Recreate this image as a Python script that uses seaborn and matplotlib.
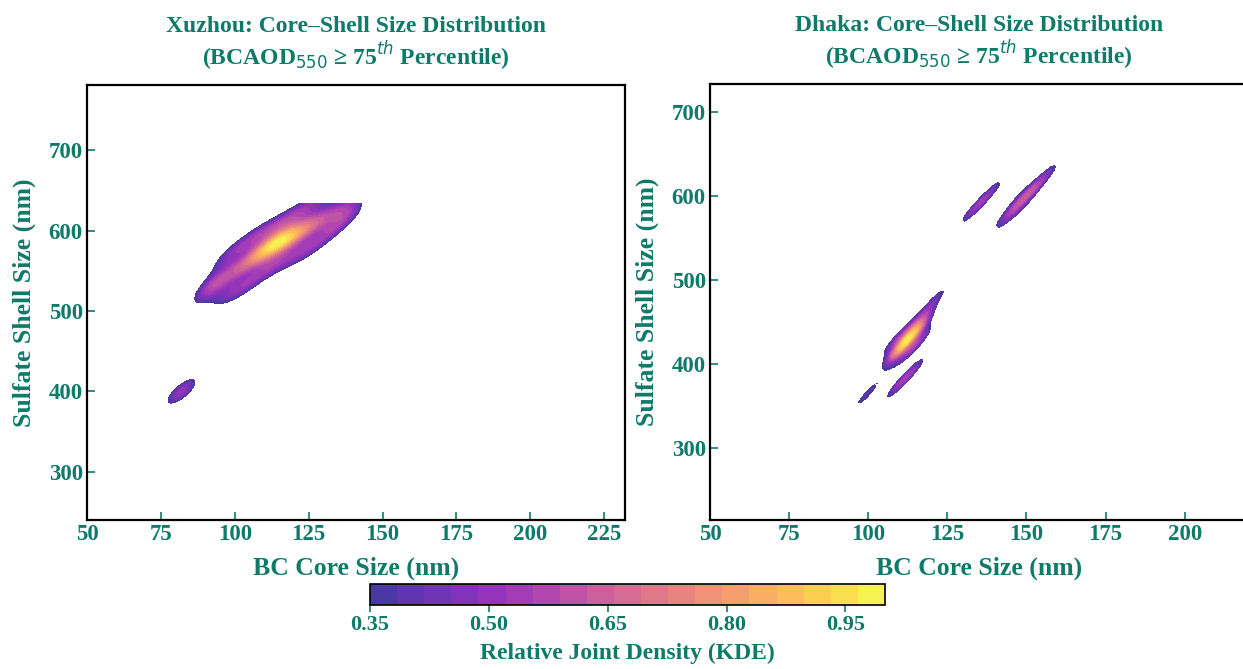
import numpy as np
import matplotlib
matplotlib.use("Agg")
import matplotlib.pyplot as plt
from matplotlib.colors import ListedColormap
import seaborn as sns

# ---------------- data: representative (core, shell) observations with counts ----------------
xz_core = [89, 90,
           95, 95, 95,
           100, 100, 100,
           105, 105, 105,
           110, 110, 110,
           115, 115, 115,
           120, 120, 120,
           125, 125, 125,
           130, 130, 130,
           135, 135,
           140, 140,
           80, 82, 84]
xz_shell = [516, 530,
            515, 538, 561,
            522, 549, 576,
            534, 562, 589,
            550, 576, 601,
            560, 586, 610,
            566, 594, 620,
            576, 604, 632,
            590, 614, 638,
            606, 628,
            620, 634,
            393, 400, 407]
xz_count = [3, 3,
            3, 3, 3,
            3, 3, 3,
            3, 4, 3,
            3, 5, 3,
            3, 7, 3,
            3, 5, 3,
            3, 4, 3,
            3, 3, 3,
            3, 3,
            3, 3,
            2.5, 3, 2.5]

dk_core = [107, 109, 111, 112.5, 114, 116, 118,
           105, 107, 109, 111, 113,
           110, 112, 114, 116, 118, 119,
           119, 121, 123,
           106, 108, 110, 112, 114, 116, 118,
           98, 100.5,
           130, 133, 136, 139, 141.5,
           140, 143, 146, 149, 152, 155, 158, 160,
           141, 144, 147, 150, 153,
           143, 146, 149, 152, 155]
dk_shell = [405, 413, 421, 429, 437, 445, 453,
            414, 422, 430, 438, 446,
            402, 410, 418, 426, 434, 444,
            465, 476, 487,
            360, 368, 376, 384, 392, 400, 406,
            357, 367,
            570, 582, 594, 606, 614,
            560, 572, 584, 596, 607, 619, 631, 640,
            577, 589, 601, 612, 623,
            558, 570, 582, 594, 606]
dk_count = [2, 5, 7, 8, 6, 4, 2,
            2, 3, 4, 3, 2,
            2, 3, 4, 4, 3, 2,
            4, 5, 4,
            2, 3, 4, 4, 4, 3, 1,
            6, 6,
            4, 5, 5, 5, 3,
            3, 4, 5, 5, 5, 4, 4, 2,
            1, 2, 2, 2, 1,
            1, 2, 2, 2, 1]

titles = ["Xuzhou: Core\u2013Shell Size Distribution", "Dhaka: Core\u2013Shell Size Distribution"]
x_ticks = [[50, 75, 100, 125, 150, 175, 200, 225], [50, 75, 100, 125, 150, 175, 200]]
y_ticks = [[300, 400, 500, 600, 700], [300, 400, 500, 600, 700]]
x_lims = [(50, 232), (50, 220)]
y_lims = [(240, 781), (214, 733)]
cbar_ticks = [0.35, 0.50, 0.65, 0.80, 0.95]
levels = np.linspace(0.35, 1.0, 20)

# kernel bandwidths (core sd, shell sd, correlation) and evaluation grid extents
xz_bw = (5.0, 16.0, 0.75)
dk_bw = (4.5, 18.0, 0.93)
xz_grid = ((76, 146), (380, 634))
dk_grid = ((92, 162), (340, 645))

TEAL = "#0e7a6a"

sns.set_theme(style="white")
plt.rcParams["font.family"] = ["Liberation Serif", "DejaVu Serif"]
plt.rcParams["mathtext.fontset"] = "custom"
plt.rcParams["mathtext.rm"] = "DejaVu Sans"
plt.rcParams["mathtext.it"] = "DejaVu Sans:italic"
plt.rcParams["mathtext.bf"] = "DejaVu Sans:bold"

# plasma palette softened towards white (as if drawn at 80% opacity)
base = np.array(sns.color_palette("plasma", 256))
soft_plasma = ListedColormap(0.8 * base + 0.2)

fig = plt.figure(figsize=(12.43, 6.69), dpi=100)
ax1 = fig.add_axes([0.070, 0.2227, 0.4328, 0.6503])
ax2 = fig.add_axes([0.5712, 0.2227, 0.4328, 0.6518])


def relative_kde(core, shell, count, bw, grid, n=85):
    core = np.asarray(core, float)
    shell = np.asarray(shell, float)
    w = np.asarray(count, float)
    sc, ss, rho = bw
    cov = np.array([[sc * sc, rho * sc * ss], [rho * sc * ss, ss * ss]])
    inv = np.linalg.inv(cov)
    gx = np.linspace(grid[0][0], grid[0][1], n)
    gy = np.linspace(grid[1][0], grid[1][1], n)
    X, Y = np.meshgrid(gx, gy)
    dx = X[..., None] - core
    dy = Y[..., None] - shell
    q = inv[0, 0] * dx * dx + 2 * inv[0, 1] * dx * dy + inv[1, 1] * dy * dy
    Z = (w * np.exp(-0.5 * q)).sum(axis=-1)
    return X, Y, Z / Z.max()


datasets = [(xz_core, xz_shell, xz_count, xz_bw, xz_grid),
            (dk_core, dk_shell, dk_count, dk_bw, dk_grid)]
cf = None
for i, (ax, (c, s, n, bw, grid)) in enumerate(zip([ax1, ax2], datasets)):
    X, Y, Z = relative_kde(c, s, n, bw, grid)
    cf = ax.contourf(X, Y, Z, levels=levels, cmap=soft_plasma)
    ax.set_xlim(*x_lims[i])
    ax.set_ylim(*y_lims[i])
    ax.set_xticks(x_ticks[i])
    ax.set_yticks(y_ticks[i])
    ax.tick_params(direction="in", length=6, width=1.2, colors=TEAL, labelsize=16.5,
                   bottom=True, left=True, top=False, right=False, pad=3)
    for lab in ax.get_xticklabels() + ax.get_yticklabels():
        lab.set_fontweight("bold")
        lab.set_color(TEAL)
    for sp in ax.spines.values():
        sp.set_color("black")
        sp.set_linewidth(1.6)
    ax.set_xlabel("BC Core Size (nm)", fontsize=18.5, fontweight="bold", color=TEAL, labelpad=8)
    ax.set_ylabel("Sulfate Shell Size (nm)", fontsize=18.5, fontweight="bold", color=TEAL, labelpad=9)
    ax.set_title(titles[i] + "\n" + "(BCAOD$_{550}$ \u2265 75$^{th}$ Percentile)",
                 fontsize=17, fontweight="bold", color=TEAL, pad=14, linespacing=1.1)
    ax.grid(False)

cax = fig.add_axes([0.2977, 0.0957, 0.4143, 0.0314])
cb = fig.colorbar(cf, cax=cax, orientation="horizontal", ticks=cbar_ticks)
cb.ax.set_xticklabels([f"{t:.2f}" for t in cbar_ticks])
cb.ax.tick_params(colors=TEAL, labelsize=16, length=5, width=1.2, pad=2)
for lab in cb.ax.get_xticklabels():
    lab.set_fontweight("bold")
    lab.set_color(TEAL)
cb.outline.set_edgecolor("black")
cb.outline.set_linewidth(1.2)
cb.set_label("Relative Joint Density (KDE)", fontsize=17, fontweight="bold", color=TEAL, labelpad=6)

fig.savefig("out.png", dpi=100)
